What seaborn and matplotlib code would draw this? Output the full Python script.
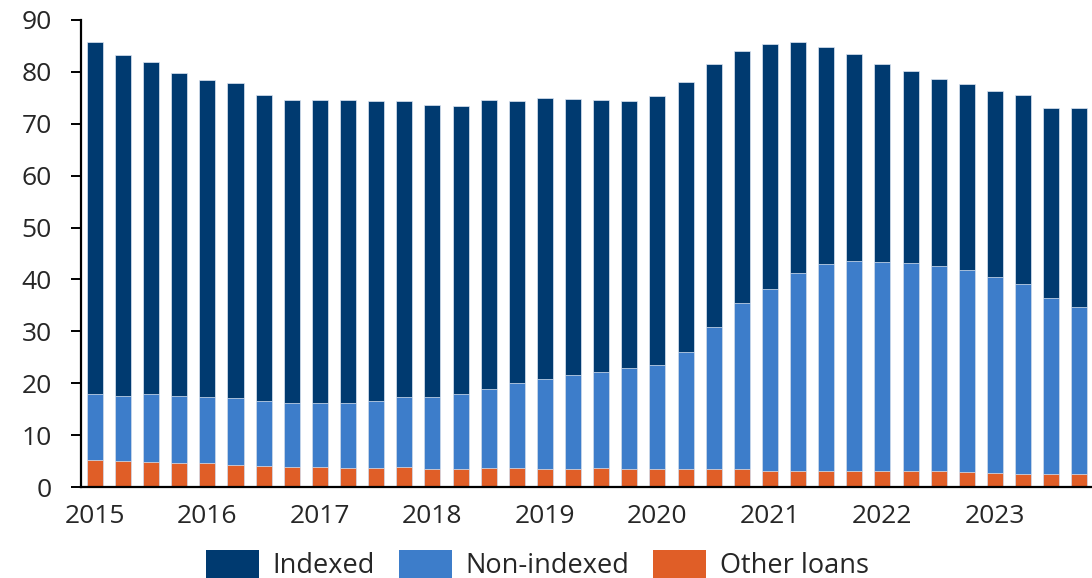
import matplotlib
matplotlib.use("Agg")
import matplotlib.pyplot as plt
import seaborn as sns
import pandas as pd
import numpy as np
from matplotlib.patches import Patch

years = ["2015", "2016", "2017", "2018", "2019", "2020", "2021", "2022", "2023"]
quarters = [f"{y}Q{q}" for y in years for q in range(1, 5)]

indexed = [67.8, 65.6, 64.1, 62.1, 61.1, 60.6, 58.9, 58.4, 58.4, 58.4, 57.8, 57.1,
           56.4, 55.6, 55.6, 54.3, 54.1, 53.3, 52.3, 51.5, 51.7, 52.0, 50.7, 48.5,
           47.2, 44.5, 41.8, 39.9, 38.1, 36.9, 36.0, 35.8, 35.8, 36.4, 36.7, 38.3]
non_indexed = [12.6, 12.5, 13.0, 13.0, 12.7, 12.9, 12.6, 12.3, 12.3, 12.4, 12.8, 13.5,
               13.8, 14.4, 15.2, 16.5, 17.4, 18.0, 18.5, 19.4, 20.2, 22.6, 27.3, 32.1,
               35.1, 38.1, 39.9, 40.4, 40.4, 40.2, 39.6, 38.9, 37.8, 36.5, 33.8, 32.2]
other_loans = [5.3, 5.1, 4.9, 4.6, 4.6, 4.3, 4.0, 3.9, 3.8, 3.7, 3.7, 3.8,
               3.5, 3.5, 3.7, 3.6, 3.5, 3.5, 3.7, 3.5, 3.4, 3.4, 3.5, 3.4,
               3.0, 3.1, 3.1, 3.1, 3.0, 3.0, 3.0, 2.9, 2.7, 2.6, 2.6, 2.5]

series_names = ["Indexed", "Non-indexed", "Other loans"]
colors = ["#003A70", "#3D7DCA", "#E05E27"]

sns.set_theme(style="white")
plt.rcParams["font.family"] = ["Open Sans", "DejaVu Sans"]

df = pd.DataFrame({"quarter": quarters,
                   "Indexed": indexed,
                   "Non-indexed": non_indexed,
                   "Other loans": other_loans})
df["c_other"] = df["Other loans"]
df["c_non"] = df["Other loans"] + df["Non-indexed"]
df["c_all"] = df["c_non"] + df["Indexed"]

fig = plt.figure(figsize=(10.92, 5.78), dpi=100)
ax = fig.add_axes([0.074, 0.1574, 0.926, 0.808])

for col, c in zip(["c_all", "c_non", "c_other"], colors):
    sns.barplot(data=df, x="quarter", y=col, color=c, width=0.57,
                edgecolor="#dde6f2", linewidth=0.5, saturation=1, ax=ax)

ax.set_xlim(-0.5, 35.45)
ax.set_ylim(0, 90)
ax.set_yticks(np.arange(0, 91, 10))
ax.set_xticks(np.arange(0, 36, 4))
ax.set_xticklabels(years)
ax.set_xlabel("")
ax.set_ylabel("")

for s in ["top", "right"]:
    ax.spines[s].set_visible(False)
for s in ["left", "bottom"]:
    ax.spines[s].set_color("black")
    ax.spines[s].set_linewidth(1.6)

ax.tick_params(axis="y", which="major", length=7, width=1.4, color="black",
               labelsize=19, pad=14, left=True, direction="out")
ax.tick_params(axis="x", which="major", length=0, labelsize=19, pad=12)

handles = [Patch(facecolor=c, edgecolor="none") for c in colors]
fig.legend(handles, series_names, loc="center", bbox_to_anchor=(0.492, 1 - 565 / 578),
           ncol=3, frameon=False, fontsize=19.5, handlelength=1.95, handleheight=1.2,
           handletextpad=0.5, columnspacing=0.9)

fig.savefig("out.png", dpi=100)
